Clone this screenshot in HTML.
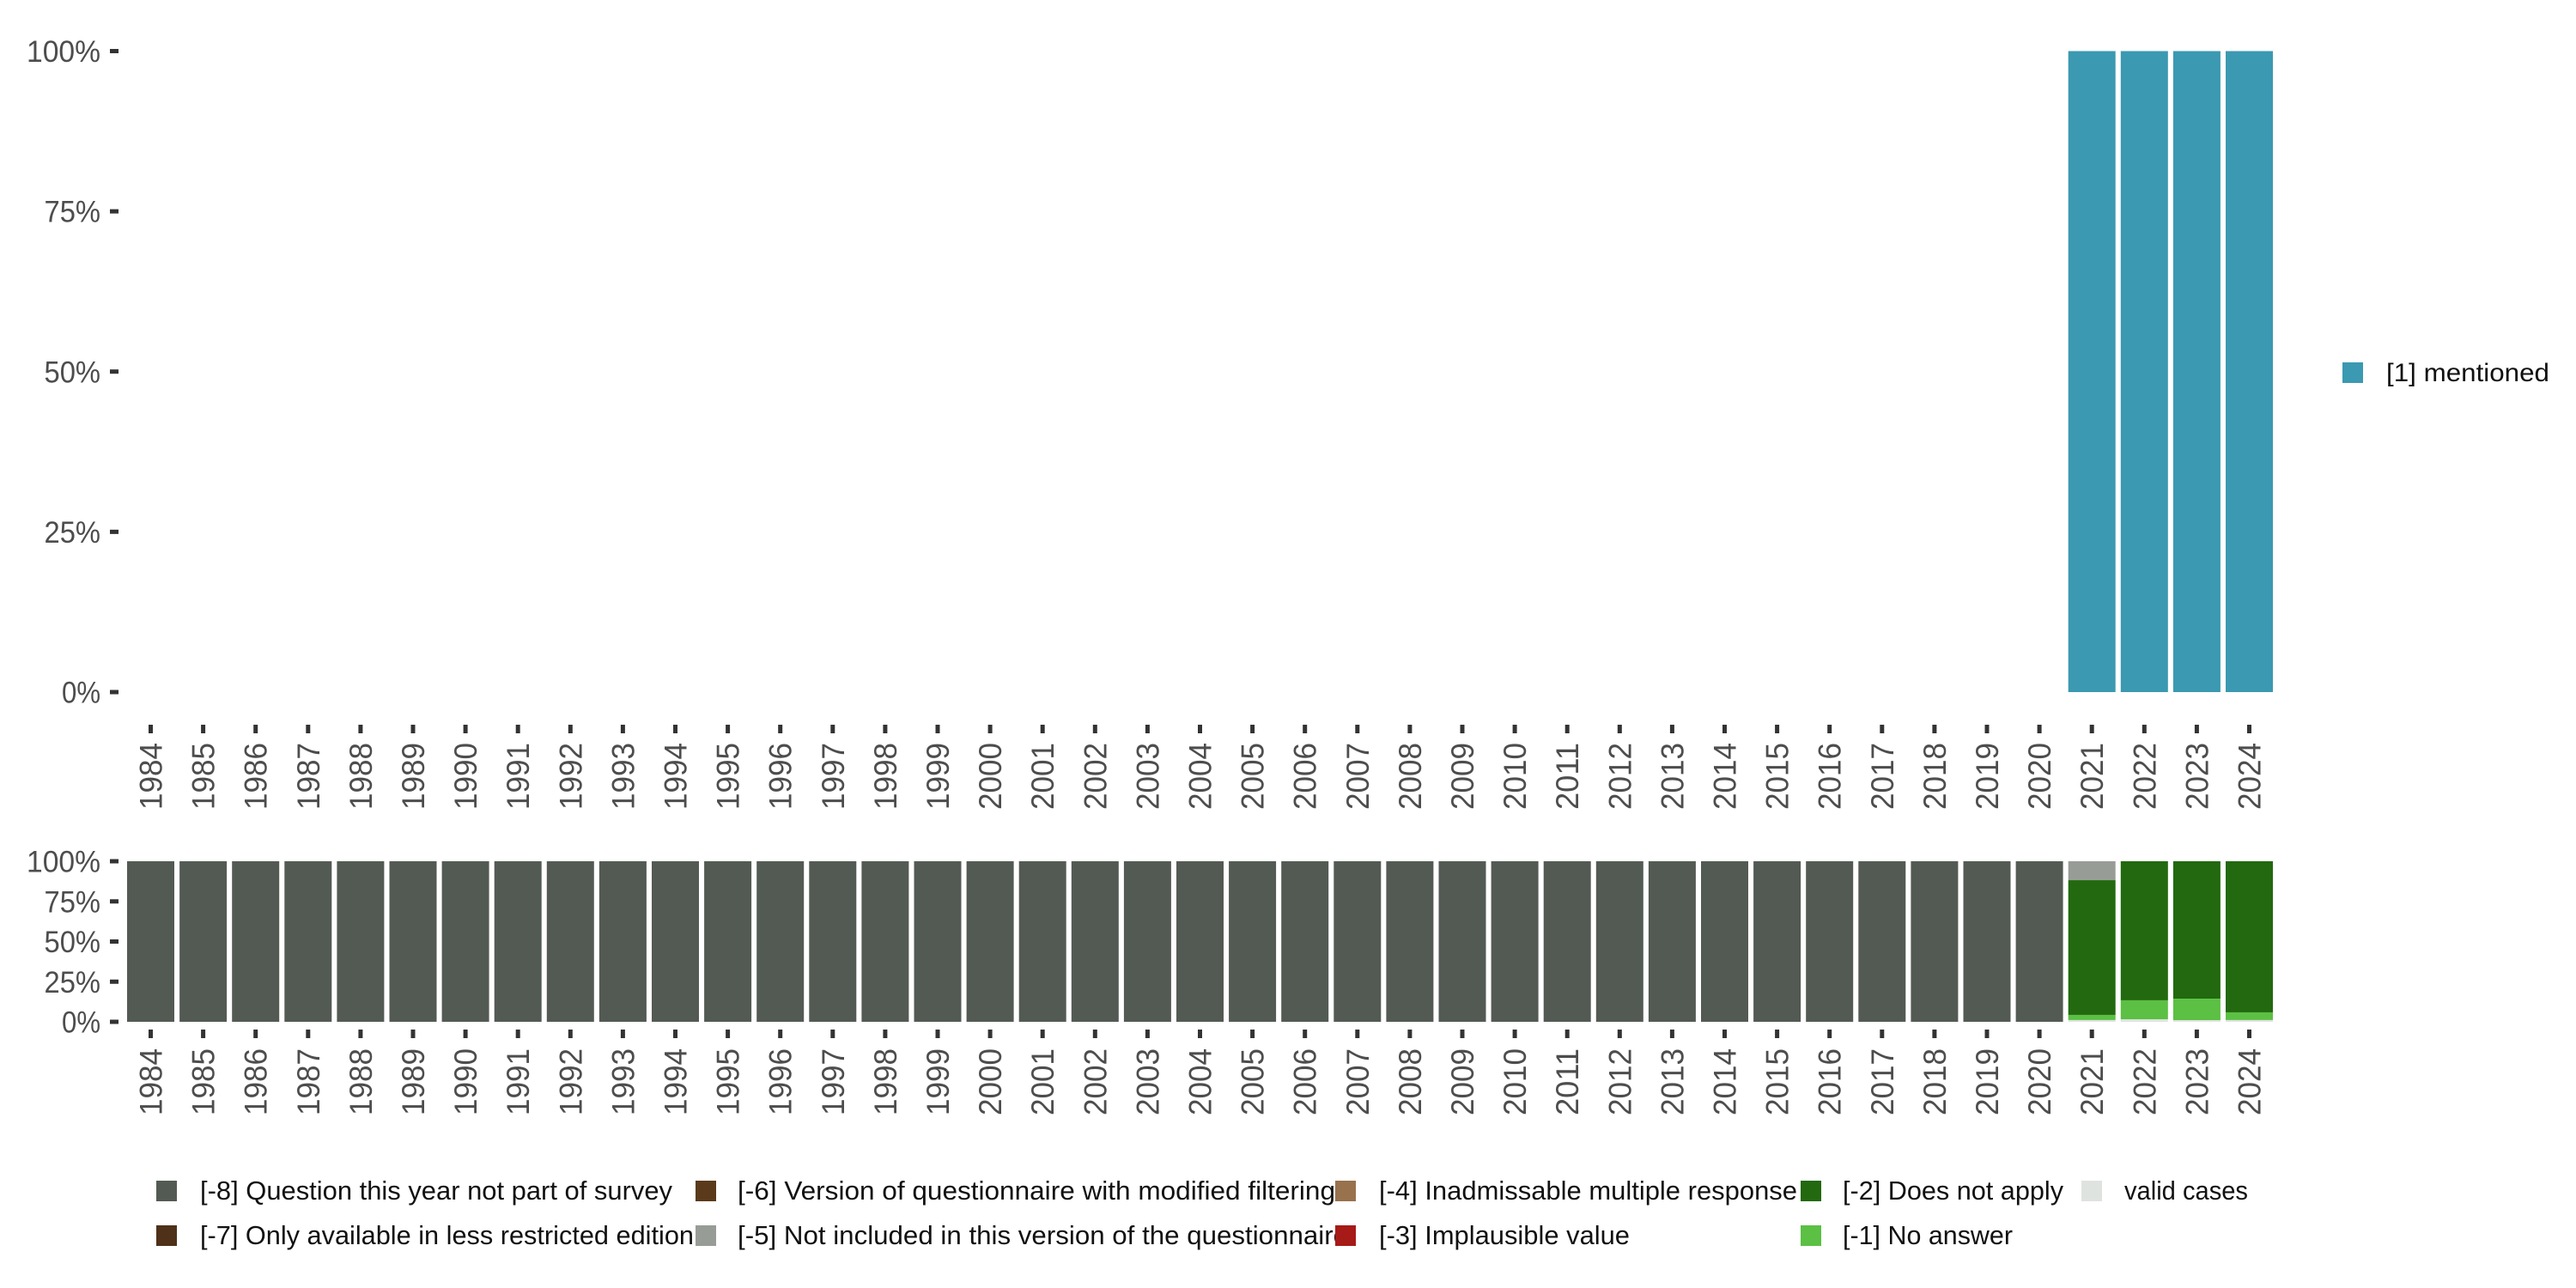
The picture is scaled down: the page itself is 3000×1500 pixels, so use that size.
<!DOCTYPE html>
<html><head><meta charset="utf-8"><style>
html,body{margin:0;padding:0;background:#fff;}
svg{display:block;font-family:"Liberation Sans",sans-serif;}
</style></head><body>
<svg id="chart" width="3000" height="1500" viewBox="0 0 3000 1500" xmlns="http://www.w3.org/2000/svg"></svg>
<script>
const years = [1984,1985,1986,1987,1988,1989,1990,1991,1992,1993,1994,1995,1996,1997,1998,1999,2000,2001,2002,2003,2004,2005,2006,2007,2008,2009,2010,2011,2012,2013,2014,2015,2016,2017,2018,2019,2020,2021,2022,2023,2024];
const mentioned = [0,0,0,0,0,0,0,0,0,0,0,0,0,0,0,0,0,0,0,0,0,0,0,0,0,0,0,0,0,0,0,0,0,0,0,0,0,1,1,1,1];
// bottom panel, stacked from top: -8, -5, -2, -1, valid
const q8 = [1,1,1,1,1,1,1,1,1,1,1,1,1,1,1,1,1,1,1,1,1,1,1,1,1,1,1,1,1,1,1,1,1,1,1,1,1,0,0,0,0];
const q5 = [0,0,0,0,0,0,0,0,0,0,0,0,0,0,0,0,0,0,0,0,0,0,0,0,0,0,0,0,0,0,0,0,0,0,0,0,0,0.118,0,0,0];
const q2 = [0,0,0,0,0,0,0,0,0,0,0,0,0,0,0,0,0,0,0,0,0,0,0,0,0,0,0,0,0,0,0,0,0,0,0,0,0,0.839,0.866,0.856,0.941];
const q1 = [0,0,0,0,0,0,0,0,0,0,0,0,0,0,0,0,0,0,0,0,0,0,0,0,0,0,0,0,0,0,0,0,0,0,0,0,0,0.032,0.118,0.134,0.048];
const qValid = [0,0,0,0,0,0,0,0,0,0,0,0,0,0,0,0,0,0,0,0,0,0,0,0,0,0,0,0,0,0,0,0,0,0,0,0,0,0.011,0.016,0.01,0.011];
const yTicks = [0,0.25,0.5,0.75,1];
const yTickLabels = ["0%","25%","50%","75%","100%"];

const svg = document.getElementById('chart');
const NS = 'http://www.w3.org/2000/svg';
function mk(tag, attrs, parent){const e=document.createElementNS(NS,tag);for(const k in attrs)e.setAttribute(k,attrs[k]);(parent||svg).appendChild(e);return e;}

const pitch = 61.1, bw = 55, x0 = 148;
function xBand(i){return x0 + i*pitch;}
function xCenter(i){return xBand(i)+bw/2;}
const topP = {y0:806, y1:59.5};
const botP = {y0:1190, y1:1003};
function yScale(p,v){return p.y0 + (p.y1-p.y0)*v;}

function drawYAxis(p,name){
  const g = mk('g',{});
  
  
  yTicks.forEach((t,i)=>{
    const y = yScale(p,t);
    const tk = mk('rect',{x:128,y:y-2.5,width:10,height:5,fill:'#333'},g);
    
    
    const lab = yTickLabels[i];
    const tx = mk('text',{x:117,y:y+12.5,'text-anchor':'end','font-size':35,fill:'#4d4d4d',textLength:lab.length*20.5+4,lengthAdjust:'spacingAndGlyphs'},g);
    tx.textContent = lab;
    
    
  });
}
function drawXAxis(tickY, labelTop, name){
  const g = mk('g',{});
  
  
  years.forEach((yr,i)=>{
    const cx = xCenter(i);
    const tk = mk('rect',{x:cx-2.5,y:tickY,width:5,height:10,fill:'#333'},g);
    
    
    const tx = mk('text',{x:0,y:0,'text-anchor':'end','font-size':37,fill:'#4d4d4d',textLength:78,lengthAdjust:'spacingAndGlyphs',transform:`translate(${cx+13},${labelTop}) rotate(-90)`},g);
    tx.textContent = yr;
    
    
  });
}

// top panel
drawYAxis(topP,'top-y-axis');
years.forEach((yr,i)=>{
  if(mentioned[i]>0){
    const y = yScale(topP,mentioned[i]);
    const r = mk('rect',{x:xBand(i),y:y,width:bw,height:yScale(topP,0)-y,fill:'#3B99B1'});
    
    
  }
});
drawXAxis(844,865,'top-x-axis');

// bottom panel
drawYAxis(botP,'bottom-y-axis');
const stackSeries = [[q8,'#535A53','q8'],[q5,'#989C97','q5'],[q2,'#22690F','q2'],[q1,'#5BC043','q1'],[qValid,'#DFE3DF','valid']];
years.forEach((yr,i)=>{
  let cum = 1;
  stackSeries.forEach(([arr,col,nm])=>{
    const v = arr[i];
    if(v>0){
      const yTop = yScale(botP,cum);
      const yBot = yScale(botP,cum-v);
      const r = mk('rect',{x:xBand(i),y:yTop,width:bw,height:yBot-yTop,fill:col});
      
      
      cum -= v;
    }
  });
});
drawXAxis(1199,1221,'bottom-x-axis');

// right legend
const lg = mk('g',{});


const ls = mk('rect',{x:2728,y:422,width:24,height:24,fill:'#3B99B1'},lg);


const lt = mk('text',{x:2779,y:444,'font-size':30,fill:'#111',textLength:190,lengthAdjust:'spacingAndGlyphs'},lg);
lt.textContent='[1] mentioned';



// bottom legend
const legendEntries = [
  [182,233,783,1375,'#535A53','[-8] Question this year not part of survey'],
  [182,233,808,1427,'#4E3118','[-7] Only available in less restricted edition'],
  [810,859,1555,1375,'#5A3A1A','[-6] Version of questionnaire with modified filtering'],
  [810,859,1570,1427,'#989C97','[-5] Not included in this version of the questionnaire'],
  [1555,1606,2093,1375,'#98714D','[-4] Inadmissable multiple response'],
  [1555,1606,1898,1427,'#A61A17','[-3] Implausible value'],
  [2097,2146,2403,1375,'#22690F','[-2] Does not apply'],
  [2097,2146,2344,1427,'#5BC043','[-1] No answer'],
  [2424,2474,2618,1375,'#DFE3DF','valid cases']
];
const bg = mk('g',{});


legendEntries.forEach(([sx,tx,te,y,col,label])=>{
  const s = mk('rect',{x:sx,y:y,width:24,height:24,fill:col},bg);
  
  
  const t = mk('text',{x:tx,y:y+22,'font-size':31,fill:'#111',textLength:te-tx,lengthAdjust:'spacingAndGlyphs'},bg);
  t.textContent = label;
  
  
});
</script>
</body></html>
